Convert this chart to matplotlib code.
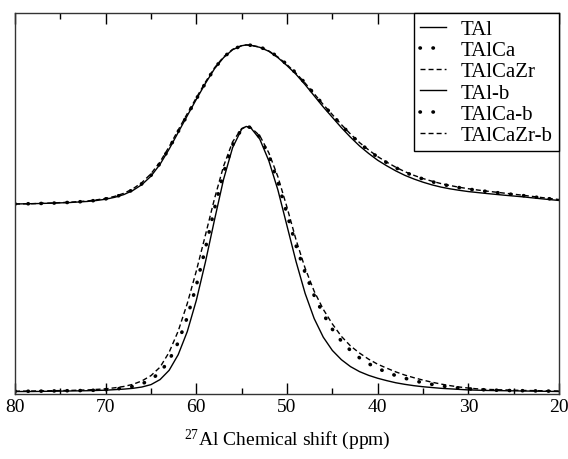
import matplotlib
matplotlib.use("Agg")
from matplotlib import pyplot as plt
from matplotlib.ticker import MultipleLocator
import numpy as np

plt.rcParams["font.family"] = ["Liberation Serif", "DejaVu Serif"]
plt.rcParams["mathtext.fontset"] = "custom"
plt.rcParams["mathtext.rm"] = "Liberation Serif"

# chemical shift grid (ppm)
ppm = [80, 78, 76, 74,
       72, 71, 70, 69, 68, 67, 66, 65, 64, 63, 62, 61, 60, 59, 58, 57, 56, 55,
       54.5,
       54, 53, 52, 51, 50, 49, 48, 47, 46, 45, 44, 43, 42, 41, 40, 39, 38, 37, 36, 35, 34, 33, 32, 31, 30, 29, 28,
       26, 24, 22, 20]

# normalised intensities (upper set)
tal = [0.0, 0.002, 0.005, 0.009,
       0.016, 0.022, 0.03, 0.042, 0.059, 0.085, 0.122, 0.175, 0.25, 0.345, 0.45, 0.555, 0.658, 0.758, 0.85, 0.92, 0.97, 0.995,
       1.0,
       0.998, 0.985, 0.96, 0.92, 0.87, 0.815, 0.75, 0.68, 0.61, 0.545, 0.48, 0.42, 0.365, 0.318, 0.275, 0.24, 0.208, 0.18, 0.157, 0.137, 0.12, 0.106, 0.095, 0.086, 0.078, 0.072, 0.066,
       0.055, 0.045, 0.033, 0.022]
talca = [0.0, 0.002, 0.005, 0.01,
         0.017, 0.023, 0.032, 0.044, 0.062, 0.089, 0.127, 0.18, 0.255, 0.35, 0.455, 0.558, 0.66, 0.76, 0.852, 0.922, 0.971, 0.995,
         1.0,
         0.998, 0.987, 0.963, 0.925, 0.877, 0.823, 0.76, 0.692, 0.623, 0.56, 0.496, 0.437, 0.383, 0.337, 0.295, 0.26, 0.228, 0.2, 0.177, 0.157, 0.14, 0.125, 0.113, 0.103, 0.094, 0.086, 0.079,
         0.066, 0.053, 0.039, 0.026]
talcazr = [0.0, 0.002, 0.006, 0.011,
           0.019, 0.026, 0.035, 0.048, 0.067, 0.095, 0.135, 0.19, 0.265, 0.36, 0.465, 0.568, 0.668, 0.766, 0.856, 0.925, 0.972, 0.996,
           1.0,
           0.998, 0.987, 0.962, 0.924, 0.876, 0.822, 0.76, 0.693, 0.625, 0.562, 0.499, 0.44, 0.386, 0.34, 0.298, 0.263, 0.231, 0.203, 0.18, 0.16, 0.143, 0.128, 0.116, 0.105, 0.096, 0.088, 0.081,
           0.068, 0.055, 0.041, 0.028]

# lower set (-b samples)
tal_b = [0.0, 0.0, 0.001, 0.002,
         0.003, 0.004, 0.005, 0.007, 0.009, 0.012, 0.017, 0.026, 0.045, 0.08, 0.139, 0.226, 0.344, 0.488, 0.647, 0.8, 0.92, 0.99,
         1.0,
         0.995, 0.952, 0.87, 0.76, 0.625, 0.49, 0.37, 0.275, 0.205, 0.155, 0.12, 0.094, 0.075, 0.061, 0.05, 0.041, 0.033, 0.027, 0.022, 0.018, 0.015, 0.012, 0.01, 0.008, 0.006, 0.005, 0.004,
         0.003, 0.002, 0.001, 0.0]
talca_b = [0.001, 0.001, 0.002, 0.003,
           0.004, 0.005, 0.007, 0.009, 0.013, 0.019, 0.029, 0.045, 0.072, 0.118, 0.185, 0.28, 0.4, 0.54, 0.69, 0.825, 0.93, 0.991,
           1.0,
           0.996, 0.96, 0.89, 0.79, 0.67, 0.55, 0.448, 0.362, 0.292, 0.235, 0.19, 0.155, 0.127, 0.105, 0.087, 0.073, 0.06, 0.05, 0.041, 0.033, 0.027, 0.021, 0.017, 0.013, 0.01, 0.008, 0.006,
           0.004, 0.003, 0.002, 0.001]
talcazr_b = [0.001, 0.002, 0.003, 0.004,
             0.006, 0.008, 0.01, 0.014, 0.019, 0.027, 0.04, 0.06, 0.092, 0.148, 0.228, 0.332, 0.455, 0.59, 0.727, 0.85, 0.942, 0.992,
             1.0,
             0.996, 0.965, 0.9, 0.81, 0.695, 0.572, 0.465, 0.378, 0.31, 0.255, 0.208, 0.172, 0.145, 0.122, 0.103, 0.088, 0.074, 0.062, 0.052, 0.043, 0.035, 0.028, 0.022, 0.017, 0.013, 0.01, 0.008,
             0.006, 0.004, 0.003, 0.002]

# upper set is stacked above the lower one
top_off = 0.7075
top_scale = 0.6

dots = (0, (0.1, 3.5))
dashes = (0, (3.6, 2.2))

fig = plt.figure(figsize=(5.68, 4.6), dpi=100)
ax = fig.add_axes([15/568, 65/460, 544/568, 381/460])

x = np.array(ppm)
ax.plot(x, np.array(tal)*top_scale + top_off, color="black", lw=1.0, label="TAl")
ax.plot(x, np.array(talca)*top_scale + top_off, color="black", lw=2.6, ls=dots,
        dash_capstyle="round", label="TAlCa")
ax.plot(x, np.array(talcazr)*top_scale + top_off, color="black", lw=1.0, ls=dashes, label="TAlCaZr")
ax.plot(x, tal_b, color="black", lw=1.0, label="TAl-b")
ax.plot(x, talca_b, color="black", lw=2.6, ls=dots, dash_capstyle="round", label="TAlCa-b")
ax.plot(x, talcazr_b, color="black", lw=1.0, ls=dashes, label="TAlCaZr-b")

ax.set_xlim(80, 20)
ax.set_ylim(-0.0094, 1.428)
ax.set_yticks([])
ax.xaxis.set_major_locator(MultipleLocator(10))
ax.xaxis.set_minor_locator(MultipleLocator(5))
ax.tick_params(axis="x", which="major", direction="in", top=True, length=8, width=1, labelsize=14, pad=3)
ax.tick_params(axis="x", which="minor", direction="in", top=True, length=4, width=1)
for s in ax.spines.values():
    s.set_linewidth(1.0)
    s.set_color("#333333")

ax.set_xlabel(r"$\mathregular{^{27}}$Al Chemical shift (ppm)", fontsize=14, labelpad=8)

leg = ax.legend(loc="upper right", fontsize=15, frameon=True, fancybox=False,
                edgecolor="black", framealpha=1, borderaxespad=0, borderpad=0.3,
                labelspacing=0.08, handlelength=1.25, handletextpad=0.7)
leg.get_frame().set_linewidth(1.0)

fig.savefig("out.png", dpi=100)
